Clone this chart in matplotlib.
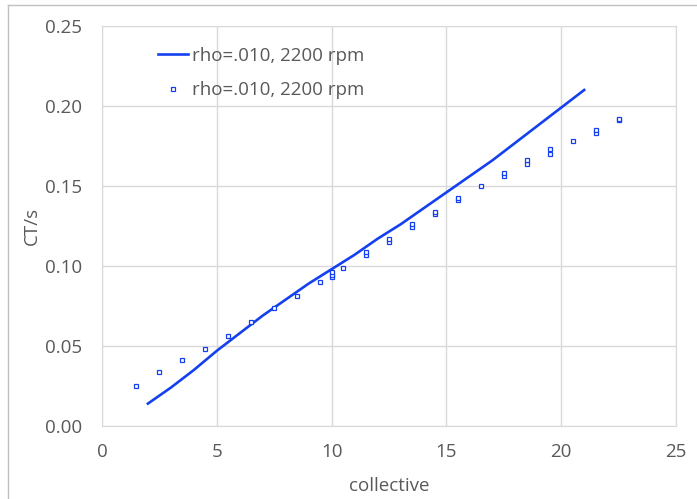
import matplotlib.pyplot as plt
from matplotlib.lines import Line2D
from matplotlib.ticker import FormatStrFormatter

# calculated curve
line_x = [2, 3, 4, 5, 6, 7, 8, 9, 10, 11, 12, 13, 14, 15, 16, 17, 18, 19, 20, 21]
line_y = [0.014, 0.024, 0.035, 0.047, 0.058, 0.069, 0.079, 0.089, 0.098, 0.107,
          0.117, 0.126, 0.136, 0.146, 0.156, 0.166, 0.177, 0.188, 0.199, 0.210]

# test points
pts_x = [1.5, 2.5, 3.5, 4.5, 5.5, 6.5, 7.5, 8.5, 9.5, 10, 10, 10, 10.5,
         11.5, 11.5, 12.5, 12.5, 13.5, 13.5, 14.5, 14.5, 15.5, 15.5, 16.5,
         17.5, 17.5, 18.5, 18.5, 19.5, 19.5, 20.5, 21.5, 21.5, 22.5, 22.5]
pts_y = [0.025, 0.0335, 0.041, 0.048, 0.056, 0.065, 0.0735, 0.081, 0.090,
         0.093, 0.0945, 0.096, 0.0985, 0.107, 0.109, 0.115, 0.117, 0.1245,
         0.126, 0.1325, 0.134, 0.1415, 0.1425, 0.150, 0.156, 0.158, 0.164,
         0.166, 0.170, 0.173, 0.178, 0.183, 0.185, 0.191, 0.192]

label = "rho=.010, 2200 rpm"
blue = "#1440f0"
gray = "#595959"
grid = "#d9d9d9"
fs = 13.5

plt.rcParams["font.family"] = ["Open Sans", "DejaVu Sans"]

fig = plt.figure(figsize=(6.97, 4.99), dpi=100)
ax = fig.add_axes([102 / 697, 73 / 499, 574 / 697, 400 / 499])

ax.plot(line_x, line_y, color=blue, lw=1.9, label=label)
ax.plot(pts_x, pts_y, ls="none", marker="s", ms=3.4, mfc="white",
        mec=blue, mew=0.9, label=label)

ax.set_xlim(0, 25)
ax.set_ylim(0, 0.25)
ax.set_xticks(range(0, 26, 5))
ax.set_yticks([0, 0.05, 0.10, 0.15, 0.20, 0.25])
ax.yaxis.set_major_formatter(FormatStrFormatter("%.2f"))
ax.grid(True, color=grid, lw=1)
ax.set_axisbelow(True)
for s in ax.spines.values():
    s.set_color(grid)
ax.tick_params(length=0, labelsize=fs, labelcolor=gray, pad=12.5)
ax.tick_params(axis="y", pad=14.5)

ax.set_xlabel("collective", fontsize=fs, color=gray, labelpad=11.5)
ax.set_ylabel("CT/s", fontsize=fs, color=gray, labelpad=3)

ax.legend(loc="upper left", bbox_to_anchor=(0.068, 0.99), frameon=False,
          fontsize=fs, labelcolor=gray, handlelength=1.6, handletextpad=0.2,
          labelspacing=0.88)

# outer chart border
fig.add_artist(Line2D([8 / 697, 8 / 697], [0, 1 - 5 / 499], color="#c0c0c0", lw=1))
fig.add_artist(Line2D([8 / 697, 1], [1 - 5 / 499, 1 - 5 / 499], color="#c0c0c0", lw=1))

fig.savefig("out.png", dpi=100)
